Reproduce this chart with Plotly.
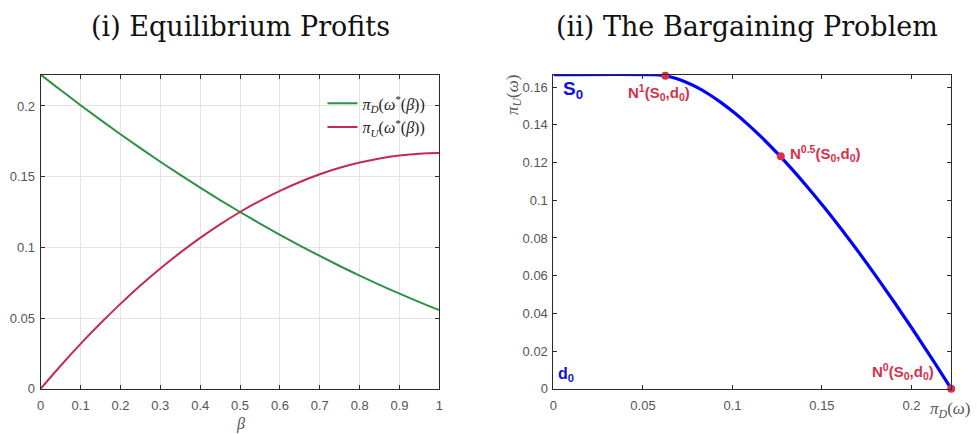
import plotly.graph_objects as go

# ---- data ----
beta = [0.0, 0.05, 0.1, 0.15, 0.2, 0.25, 0.3, 0.35, 0.4, 0.45, 0.5,
        0.55, 0.6, 0.65, 0.7, 0.75, 0.8, 0.85, 0.9, 0.95, 1.0]
pi_D = [0.2222, 0.21125, 0.20056, 0.19014, 0.18, 0.17014, 0.16056, 0.15125,
        0.14222, 0.13347, 0.125, 0.11681, 0.10889, 0.10125, 0.09389, 0.08681,
        0.08, 0.07347, 0.06722, 0.06125, 0.05556]
pi_U = [0.0, 0.01625, 0.03167, 0.04625, 0.06, 0.07292, 0.085, 0.09625,
        0.10667, 0.11625, 0.125, 0.13292, 0.14, 0.14625, 0.15167, 0.15625,
        0.16, 0.16292, 0.165, 0.16625, 0.16667]

# bargaining frontier (pi_D, pi_U)
front_D = [0.0] + pi_D[::-1]
front_U = [0.16667] + pi_U[::-1]

# Nash bargaining solutions
nash_D = [0.0625, 0.127, 0.2222]
nash_U = [0.1660, 0.1234, 0.0]
nash_labels = ["N<sup>1</sup>(S<sub>0</sub>,d<sub>0</sub>)",
               "N<sup>0.5</sup>(S<sub>0</sub>,d<sub>0</sub>)",
               "N<sup>0</sup>(S<sub>0</sub>,d<sub>0</sub>)"]

W, H = 977, 434
GREEN = "#2e9148"
RED = "#c42a52"
BLUE = "#0000ff"
DOTRED = "#d7304a"
TICKC = "#555555"
AXC = "#2b2b2b"

def px(x):
    return x / W

def py(y):
    return 1 - y / H

fig = go.Figure()
fig.add_trace(go.Scatter(x=beta, y=pi_D, mode="lines", line=dict(color=GREEN, width=2, shape="spline"),
                         name="<i>π</i><sub><i>D</i></sub>(<i>ω</i><sup>*</sup>(<i>β</i>))", xaxis="x", yaxis="y"))
fig.add_trace(go.Scatter(x=beta, y=pi_U, mode="lines", line=dict(color=RED, width=2, shape="spline"),
                         name="<i>π</i><sub><i>U</i></sub>(<i>ω</i><sup>*</sup>(<i>β</i>))", xaxis="x", yaxis="y"))
fig.add_trace(go.Scatter(x=front_D, y=front_U, mode="lines", line=dict(color=BLUE, width=3.2, shape="spline"),
                         showlegend=False, xaxis="x2", yaxis="y2", cliponaxis=False))
fig.add_trace(go.Scatter(x=nash_D, y=nash_U, mode="markers", marker=dict(color=DOTRED, size=8),
                         showlegend=False, xaxis="x2", yaxis="y2", cliponaxis=False))

tickfont = dict(family="Liberation Sans, Arial", size=13, color=TICKC)
common = dict(showline=True, linecolor=AXC, linewidth=1, mirror="ticks", ticks="inside",
              ticklen=4, tickcolor=AXC, tickfont=tickfont, zeroline=False)

fig.update_layout(
    width=W, height=H, margin=dict(l=0, r=0, t=0, b=0),
    paper_bgcolor="white", plot_bgcolor="white",
    xaxis=dict(domain=[px(37), px(439)], range=[0, 1], tickvals=[0, .1, .2, .3, .4, .5, .6, .7, .8, .9, 1],
               ticktext=["0", "0.1", "0.2", "0.3", "0.4", "0.5", "0.6", "0.7", "0.8", "0.9", "1"],
               showgrid=True, gridcolor="#e3e3e3", anchor="y", ticklabelstandoff=5, **common),
    yaxis=dict(domain=[py(396), py(76)], range=[0, 0.2222], tickvals=[0, .05, .1, .15, .2],
               ticktext=["0", "0.05", "0.1", "0.15", "0.2"],
               showgrid=True, gridcolor="#e3e3e3", anchor="x", ticklabelstandoff=2, **common),
    xaxis2=dict(domain=[px(554), px(955)], range=[0, 0.2222], tickvals=[0, .05, .1, .15, .2],
                ticktext=["0", "0.05", "0.1", "0.15", "0.2"], showgrid=False, anchor="y2",
                ticklabelstandoff=5, **common),
    yaxis2=dict(domain=[py(396), py(76)], range=[0, 0.16667],
                tickvals=[0, .02, .04, .06, .08, .1, .12, .14, .16],
                ticktext=["0", "0.02", "0.04", "0.06", "0.08", "0.1", "0.12", "0.14", "0.16"],
                showgrid=False, anchor="x2", ticklabelstandoff=2, **common),
    legend=dict(x=px(430), y=py(88), xanchor="right", yanchor="top", bgcolor="rgba(0,0,0,0)",
                font=dict(family="Liberation Serif, serif", size=16, color="#222222"),
                tracegroupgap=0, itemwidth=30),
    showlegend=True,
)

ann = []
serif = "DejaVu Serif, serif"
ann.append(dict(x=px(238), y=py(27), text="(i) Equilibrium Profits", font=dict(family=serif, size=27, color="#111111")))
ann.append(dict(x=px(749), y=py(27), text="(ii) The Bargaining Problem", font=dict(family=serif, size=27, color="#111111")))
lserif = "Liberation Serif, serif"
ann.append(dict(x=px(238), y=py(426), yshift=-6, text="<i>β</i>", font=dict(family=lserif, size=16, color=TICKC)))
ann.append(dict(x=px(954), y=py(418), text="<i>π</i><sub><i>D</i></sub>(<i>ω</i>)", font=dict(family=lserif, size=17, color=TICKC)))
ann.append(dict(x=px(514), y=py(97), text="<i>π</i><sub><i>U</i></sub>(<i>ω</i>)", textangle=-90, font=dict(family=lserif, size=17, color=TICKC)))
bold_sans = "Liberation Sans, Arial"
ann.append(dict(x=px(574), y=py(92), text="<b>S<sub>0</sub></b>", font=dict(family=bold_sans, size=19, color="#1010d8")))
ann.append(dict(x=px(567), y=py(382), text="<b>d<sub>0</sub></b>", font=dict(family=bold_sans, size=16, color="#1010d8")))
label_pos = [(660, 94), (828, 156), (906, 378)]
for (lx, ly), t in zip(label_pos, nash_labels):
    ann.append(dict(x=px(lx), y=py(ly), text="<b>" + t + "</b>", font=dict(family=bold_sans, size=15, color=DOTRED)))
for a in ann:
    a.update(xref="paper", yref="paper", showarrow=False, xanchor="center", yanchor="middle")
fig.update_layout(annotations=ann)

fig.write_html("out.html")
